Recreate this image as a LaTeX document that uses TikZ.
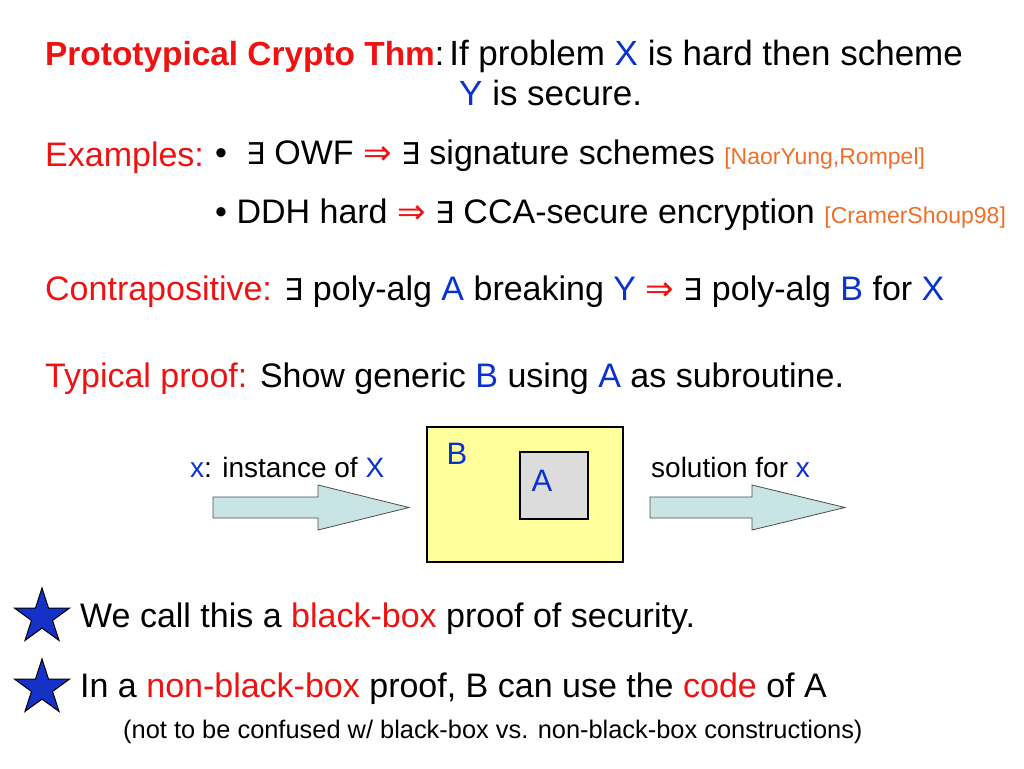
\documentclass[tikz,border=0pt]{standalone}
\usepackage{fontspec}
\setmainfont{Liberation Sans}
\newfontfamily\symf{DejaVu Sans}
\usetikzlibrary{shapes.geometric}
\definecolor{myred}{RGB}{238,18,18}
\definecolor{myblue}{RGB}{10,50,205}
\definecolor{myorange}{RGB}{240,110,40}
\definecolor{boxyellow}{RGB}{255,255,155}
\definecolor{boxgray}{RGB}{220,220,220}
\definecolor{arrowcyan}{RGB}{200,228,228}
\definecolor{starblue}{RGB}{20,50,200}
\tikzset{
  txt/.style={anchor=base west, inner sep=0pt, font=\fontsize{34}{40}\selectfont},
  small/.style={anchor=base west, inner sep=0pt, font=\fontsize{28}{33}\selectfont},
  note/.style={anchor=base west, inner sep=0pt, font=\fontsize{25.4}{30}\selectfont},
  bigarrow/.style={draw=black!70, line width=0.8pt, fill=arrowcyan},
  starnode/.style={star, star points=5, star point ratio=2.618, draw=black, line width=1pt, fill=starblue, minimum size=58, inner sep=0pt},
  boxB/.style={draw=black, line width=2pt, fill=boxyellow, inner sep=0pt, minimum width=196, minimum height=135},
  boxA/.style={draw=black, line width=2pt, fill=boxgray, inner sep=0pt, minimum width=68, minimum height=67},
  boxlab/.style={inner sep=0pt, font=\fontsize{31}{36}\selectfont, text=myblue}
}
\newcommand{\rf}[1]{{\fontsize{23}{27}\selectfont\textcolor{myorange}{#1}}}
\newcommand{\bl}[1]{\textcolor{myblue}{#1}}
\newcommand{\rd}[1]{\textcolor{myred}{#1}}
\newcommand{\imp}{\textcolor{myred}{{\symf ⇒}}}
\newcommand{\ex}{{\symf\fontsize{30}{36}\selectfont ∃}}
\begin{document}
\begin{tikzpicture}[x=1pt,y=-1pt]
\useasboundingbox (0,0) rectangle (1024,768);
% title
\node[txt] (thm) at (45,65) {\rd{\fontsize{33.4}{40}\selectfont\bfseries Prototypical Crypto Thm}:\kern5pt{\fontsize{35}{40}\selectfont If problem \bl{X} is hard then scheme}};
\node[txt] (thm2) at (459,105) {\fontsize{35}{40}\selectfont\bl{Y} is secure.};
% examples
\node[txt] (ex) at (45,166) {\rd{Examples:}};
\node[txt] (ex1) at (215,164) {\textbullet\ \ \ex\ OWF \imp{} \ex\ signature schemes \rf{[NaorYung,Rompel]}};
\node[txt] (ex2) at (215,223) {\textbullet\ DDH hard \imp{} \ex\ CCA-secure encryption \rf{[CramerShoup98]}};
% contrapositive
\node[txt] (contra) at (45,300) {\rd{Contrapositive:} \ex\ poly-alg \bl{A} breaking \bl{Y} \imp{} \ex\ poly-alg \bl{B} for \bl{X}};
% typical proof
\node[txt] (typ) at (45,387) {\rd{Typical proof:} Show generic \bl{B} using \bl{A} as subroutine.};
% diagram
\node[boxB] (B) at (525,494.5) {};
\node[boxA] (A) at (554,485.5) {};
\node[boxlab] (Blab) at (457,454) {B};
\node[boxlab] (Alab) at (542,481) {A};
\node[small] (inlab) at (190,477) {\bl{x}: instance of \bl{X}};
\node[small] (outlab) at (651,477) {solution for \bl{x}};
\draw[bigarrow] (213,497) -- (318,497) -- (318,485) -- (409,507.5) -- (318,530) -- (318,518) -- (213,518) -- cycle;
\draw[bigarrow] (650,497) -- (752,497) -- (752,485) -- (845,507.5) -- (752,530) -- (752,518) -- (650,518) -- cycle;
% stars
\node[starnode] (s1) at (42,617) {};
\node[starnode] (s2) at (42,688) {};
\node[txt] (bb) at (80,627) {We call this a \rd{black-box} proof of security.};
\node[txt] (nbb) at (80,697) {In a \rd{non-black-box} proof, B can use the \rd{code} of A};
\node[note] (nt) at (123,738) {(not to be confused w/ black-box vs. non-black-box constructions)};
\end{tikzpicture}
\end{document}
